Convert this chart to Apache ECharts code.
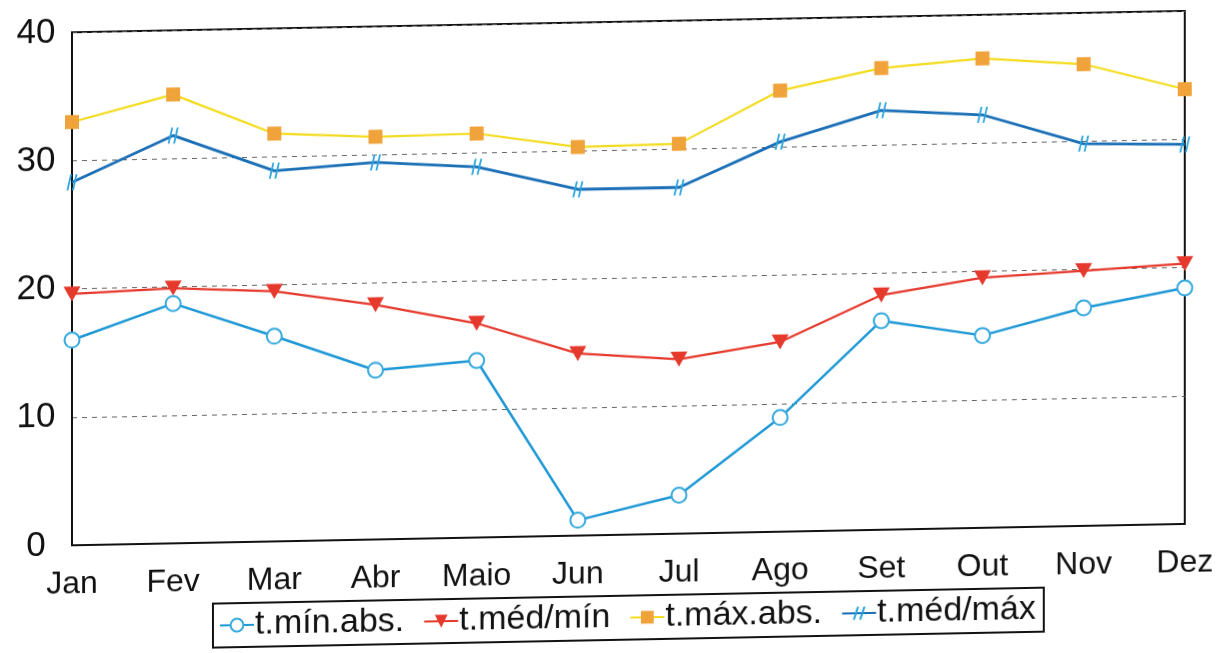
<!DOCTYPE html>
<html>
<head>
<meta charset="utf-8">
<script src="https://cdn.jsdelivr.net/npm/echarts@6/dist/echarts.min.js"></script>
<style>
  html, body { margin: 0; padding: 0; background: #fff; overflow: hidden; }
  #chart { width: 1218px; height: 653px; transform: skewY(-1.1deg); transform-origin: 50% 50%; }
</style>
</head>
<body>
<div id="chart"></div>
<script>
// Monthly temperatures (°C)
const months = ['Jan', 'Fev', 'Mar', 'Abr', 'Maio', 'Jun', 'Jul', 'Ago', 'Set', 'Out', 'Nov', 'Dez'];
const tMinAbs = [16.0, 18.7, 16.0, 13.2, 13.8, 1.2, 3.0, 8.9, 16.3, 15.0, 17.0, 18.4];
const tMedMin = [19.6, 19.9, 19.5, 18.3, 16.7, 14.2, 13.6, 14.8, 18.3, 19.5, 19.9, 20.3];
const tMaxAbs = [33.0, 35.0, 31.8, 31.4, 31.5, 30.3, 30.4, 34.4, 36.0, 36.6, 36.0, 33.9];
const tMedMax = [28.3, 31.8, 28.9, 29.4, 28.9, 27.0, 27.0, 30.4, 32.7, 32.2, 29.8, 29.6];
const yTicks = [0, 10, 20, 30, 40];

// double slash marker ("#"-like) for t.méd/máx
const hashMark = 'path://M4,0 L6,0 L2,16 L0,16 Z M10,0 L12,0 L8,16 L6,16 Z';

const font = 'Liberation Sans, Arial, sans-serif';
const chart = echarts.init(document.getElementById('chart'), null, { renderer: 'canvas' });

chart.setOption({
  backgroundColor: '#fff',
  animation: false,
  grid: {
    left: 72, right: 33, top: 22, bottom: 118,
    show: true, borderColor: '#111', borderWidth: 2, backgroundColor: 'transparent'
  },
  legend: {
    left: 213, top: 596,
    padding: [5, 8, 5, 6],
    borderColor: '#111', borderWidth: 2,
    itemWidth: 34, itemHeight: 16, itemGap: 19,
    textStyle: { fontFamily: font, fontSize: 34, color: '#111', padding: [0, 0, 0, -4] },
    data: ['t.mín.abs.', 't.méd/mín', 't.máx.abs.', 't.méd/máx']
  },
  xAxis: {
    type: 'category', data: months, boundaryGap: false,
    axisLine: { show: true, lineStyle: { color: '#111', width: 2 } },
    axisTick: { show: false },
    axisLabel: { fontFamily: font, fontSize: 32, color: '#111', margin: 23, interval: 0 },
    splitLine: { show: false }
  },
  yAxis: {
    type: 'value', min: yTicks[0], max: yTicks[yTicks.length - 1], interval: 10,
    axisLine: { show: true, lineStyle: { color: '#111', width: 2 } },
    axisTick: { show: false },
    axisLabel: { fontFamily: font, fontSize: 35, color: '#111', margin: 36, align: 'center' },
    splitLine: { show: true, lineStyle: { color: '#666', width: 1, type: [5, 5] } }
  },
  series: [
    {
      name: 't.mín.abs.', type: 'line', data: tMinAbs,
      symbol: 'emptyCircle', symbolSize: 15,
      lineStyle: { color: '#1f98d6', width: 2.5 },
      itemStyle: { color: '#35a9de', borderWidth: 1.5 },
      z: 4
    },
    {
      name: 't.méd/mín', type: 'line', data: tMedMin,
      symbol: 'triangle', symbolRotate: 180, symbolSize: [17, 15],
      lineStyle: { color: '#e5392c', width: 2.2 },
      itemStyle: { color: '#e5392c' },
      z: 3
    },
    {
      name: 't.máx.abs.', type: 'line', data: tMaxAbs,
      symbol: 'rect', symbolSize: 14,
      lineStyle: { color: '#f3dc1e', width: 2.2 },
      itemStyle: { color: '#f0a33a' },
      z: 2
    },
    {
      name: 't.méd/máx', type: 'line', data: tMedMax,
      symbol: hashMark, symbolSize: [11, 16],
      lineStyle: { color: '#1b6fb6', width: 2.8 },
      itemStyle: { color: '#2ba5de' },
      z: 5
    }
  ]
});
</script>
</body>
</html>
